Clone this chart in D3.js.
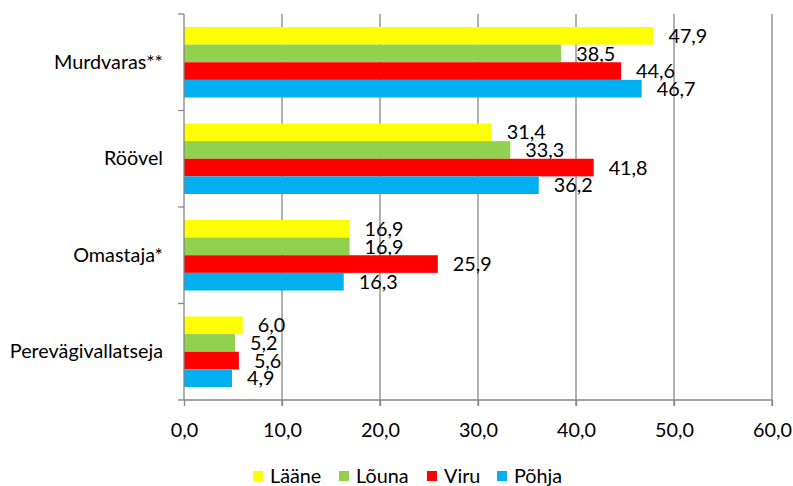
<!DOCTYPE html>
<html><head><meta charset="utf-8">
<script src="https://cdn.jsdelivr.net/npm/d3@7"></script>
<style>body{margin:0;background:#fff}svg{display:block;font-family:Lato,"Open Sans",sans-serif}</style>
</head><body><svg id="c" width="793" height="486"></svg>
<script>
const categories = ["Murdvaras**", "Röövel", "Omastaja*", "Perevägivallatseja"];
const seriesNames = ["Lääne", "Lõuna", "Viru", "Põhja"];
const colors = ["#FFFF00", "#92D050", "#FF0000", "#00B0F0"];
const laane = [47.9, 31.4, 16.9, 6.0];
const louna = [38.5, 33.3, 16.9, 5.2];
const viru = [44.6, 41.8, 25.9, 5.6];
const pohja = [46.7, 36.2, 16.3, 4.9];
const xTicks = [0, 10, 20, 30, 40, 50, 60];

const values = [laane, louna, viru, pohja];
const svg = d3.select("#c");
const m = {l:184, r:20, t:14, b:86};
const FS = 19.8;
const x = d3.scaleLinear().domain([0,60]).range([m.l, 772]);
const y = d3.scaleBand().domain(categories).range([m.t, 400]).paddingInner(0).paddingOuter(0);
const inner = d3.scaleBand().domain(seriesNames).range([13, y.bandwidth()-13]);
const fmt = v => d3.format(".1f")(v).replace(".", ",");

// gridlines
svg.append("g").selectAll("line").data(xTicks.slice(1)).join("line")
  .attr("x1", d=>x(d)).attr("x2", d=>x(d)).attr("y1", m.t).attr("y2", 406)
  .attr("stroke", "#868686").attr("stroke-width", 1.3);

// bars
categories.forEach((c, ci) => {
  seriesNames.forEach((s, si) => {
    const v = values[si][ci];
    svg.append("rect").attr("x", x(0)).attr("y", y(c) + inner(s))
      .attr("width", x(v) - x(0)).attr("height", inner.bandwidth())
      .attr("fill", colors[si]);
    svg.append("text").attr("x", x(v) + 15).attr("y", y(c) + inner(s) + inner.bandwidth()/2)
      .attr("dy", "0.36em").attr("font-size", FS).attr("fill", "#000").text(fmt(v));
  });
});

// x axis
const xa = svg.append("g").attr("transform", "translate(0,400)")
  .call(d3.axisBottom(x).tickValues(xTicks).tickSize(6).tickPadding(17).tickFormat(fmt));
xa.select(".domain").attr("stroke", "#868686").attr("stroke-width", 1.3).attr("d", `M${x(0)},0H${x(60)}`);
xa.selectAll(".tick line").attr("stroke", "#868686").attr("stroke-width", 1.3);
xa.selectAll("text").attr("font-size", FS).attr("fill", "#000").style("font-family", "Lato");

// y axis
const ya = svg.append("g").attr("transform", `translate(${x(0)},0)`)
  .call(d3.axisLeft(y).tickSize(0).tickPadding(21));
ya.select(".domain").attr("stroke", "#868686").attr("stroke-width", 1.3).attr("d", `M0,${m.t}V400`);
ya.selectAll("text").attr("font-size", FS).attr("fill", "#000").style("font-family", "Lato");
const bounds = [0,1,2,3,4].map(i => m.t + i*y.bandwidth());
svg.append("g").selectAll("line").data(bounds).join("line")
  .attr("x1", x(0)-6).attr("x2", x(0)).attr("y1", d=>d).attr("y2", d=>d)
  .attr("stroke", "#868686").attr("stroke-width", 1.3);

// legend
const legX = [253, 339, 427, 497];
const lg = svg.append("g");
seriesNames.forEach((s, i) => {
  lg.append("rect").attr("x", legX[i]).attr("y", 471).attr("width", 10).attr("height", 10).attr("fill", colors[i]);
  lg.append("text").attr("x", legX[i] + 17).attr("y", 476).attr("dy", "0.36em")
    .attr("font-size", FS).attr("fill", "#000").text(s);
});
</script></body></html>
